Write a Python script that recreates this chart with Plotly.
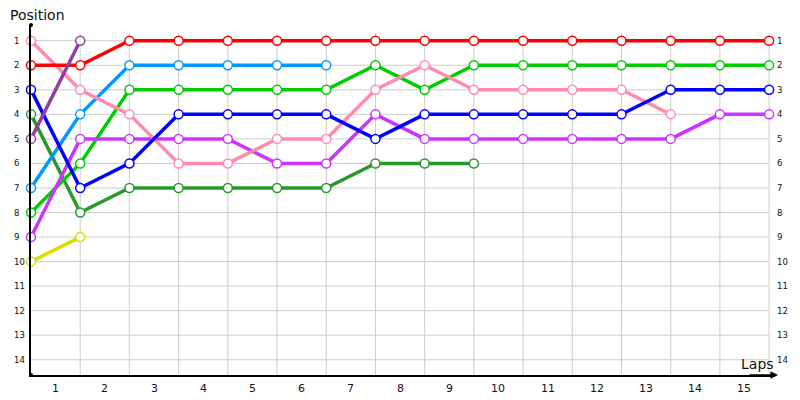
import plotly.graph_objects as go

laps = list(range(0, 16))
lap_labels = [str(i) for i in range(1, 16)]
positions = list(range(1, 15))

yellow = [10, 9]
dark_green = [4, 8, 7, 7, 7, 7, 7, 6, 6, 6]
light_blue = [7, 4, 2, 2, 2, 2, 2]
bright_green = [8, 6, 3, 3, 3, 3, 3, 2, 3, 2, 2, 2, 2, 2, 2, 2]
magenta = [9, 5, 5, 5, 5, 6, 6, 4, 5, 5, 5, 5, 5, 5, 4, 4]
pink = [1, 3, 4, 6, 6, 5, 5, 3, 2, 3, 3, 3, 3, 4]
blue = [3, 7, 6, 4, 4, 4, 4, 5, 4, 4, 4, 4, 4, 3, 3, 3]
red = [2, 2, 1, 1, 1, 1, 1, 1, 1, 1, 1, 1, 1, 1, 1, 1]
purple = [5, 1]

series = [
    (yellow, "#DDDD00"),
    (dark_green, "#26992B"),
    (light_blue, "#0099FF"),
    (bright_green, "#00CC00"),
    (magenta, "#CC33FF"),
    (pink, "#FF8CAB"),
    (blue, "#0000FF"),
    (red, "#FF0000"),
    (purple, "#8E3FA0"),
]

fig = go.Figure()
for vals, col in series:
    fig.add_trace(go.Scatter(
        x=laps[:len(vals)], y=vals, mode="lines+markers",
        line=dict(color=col, width=3.5),
        marker=dict(size=9, color="white", line=dict(color=col, width=1.5)),
        cliponaxis=False, showlegend=False, hoverinfo="skip",
    ))

shapes = []
for p in positions:
    shapes.append(dict(type="line", xref="x", yref="y", x0=0, x1=15, y0=p, y1=p,
                       line=dict(color="#CCCCCC", width=1), layer="below"))
for l in laps[1:]:
    shapes.append(dict(type="line", xref="x", yref="y", x0=l, x1=l, y0=0.69, y1=14.62,
                       line=dict(color="#CCCCCC", width=1), layer="below"))
for yy in (0, 1):
    shapes.append(dict(type="circle", xref="paper", yref="paper", xsizemode="pixel",
                       ysizemode="pixel", xanchor=0, yanchor=yy, x0=-2, x1=2, y0=-2, y1=2,
                       fillcolor="black", line=dict(width=0)))

ann = []
for p in positions:
    ann.append(dict(x=0, y=p, xref="x", yref="y", text=str(p), showarrow=False,
                    xanchor="left", yanchor="middle", xshift=-19,
                    font=dict(family="DejaVu Sans", size=8.5, color="#111")))
    ann.append(dict(x=15, y=p, xref="x", yref="y", text=str(p), showarrow=False,
                    xanchor="left", yanchor="middle", xshift=6,
                    font=dict(family="DejaVu Sans", size=8.5, color="#111")))
for i, lab in enumerate(lap_labels):
    ann.append(dict(x=i + 0.5, y=0, xref="x", yref="paper", text=lab, showarrow=False,
                    xanchor="center", yanchor="middle", yshift=-13,
                    font=dict(family="DejaVu Sans", size=11, color="#111")))
ann.append(dict(x=0, y=1, xref="paper", yref="paper", text="Position", showarrow=False,
                xanchor="left", yanchor="middle", xshift=-23, yshift=10,
                font=dict(family="DejaVu Sans", size=14, color="#111")))
ann.append(dict(x=1, y=0, xref="paper", yref="paper", text="Laps", showarrow=False,
                xanchor="right", yanchor="middle", xshift=1, yshift=11,
                font=dict(family="DejaVu Sans", size=14, color="#111")))
ann.append(dict(x=1, y=0, xref="paper", yref="paper", text="", showarrow=True,
                xshift=3, ax=-30, ay=0, arrowhead=2, arrowsize=1, arrowwidth=1.5,
                arrowcolor="black"))

# page body has an 8px margin, so the figure starts at (8, 8)
fig.update_layout(
    width=792, height=392,
    margin=dict(l=23, r=25, t=17, b=25),
    paper_bgcolor="white", plot_bgcolor="white",
    xaxis=dict(range=[0, 15.12], showgrid=False, zeroline=False, showticklabels=False,
               showline=True, linecolor="black", linewidth=1.5, ticks=""),
    yaxis=dict(range=[14.62, 0.36], showgrid=False, zeroline=False, showticklabels=False,
               showline=True, linecolor="black", linewidth=1.5, ticks=""),
    shapes=shapes, annotations=ann,
)

fig.write_html("out.html")
